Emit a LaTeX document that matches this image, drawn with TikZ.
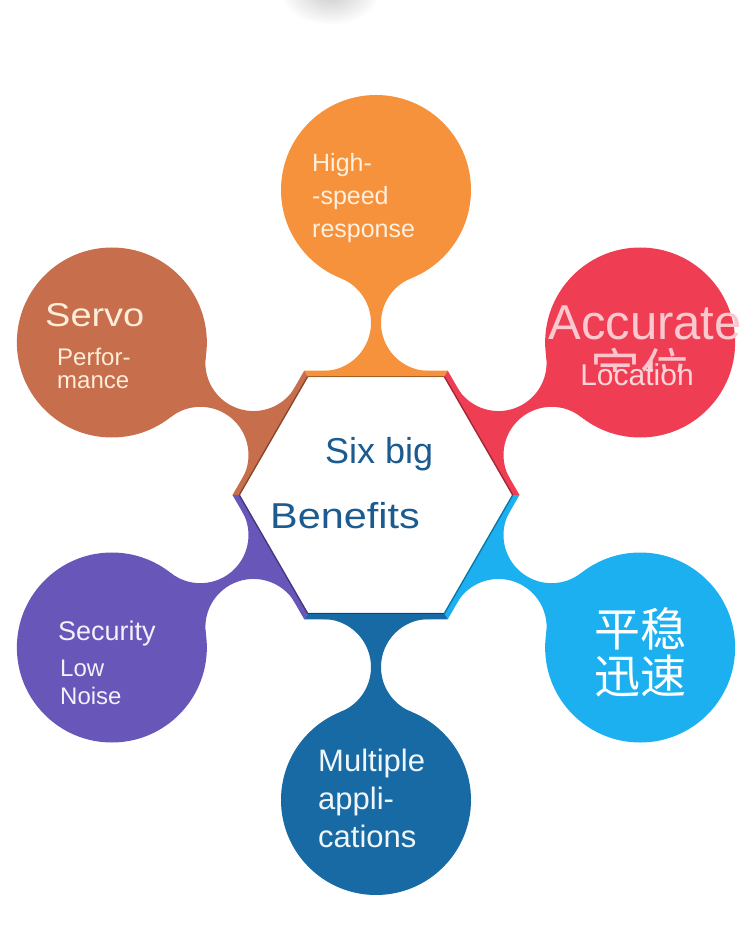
\documentclass[tikz,border=0pt]{standalone}
\usepackage{fontspec}
\setmainfont{Liberation Sans}
\newfontfamily\widefont{Liberation Sans}[FakeStretch=1.15]
\newfontfamily\cjkfont{Noto Sans CJK SC}
\usepackage{xcolor}
\usepackage{tikz}

\definecolor{cOrange}{HTML}{F6923C}
\definecolor{cRed}{HTML}{EF3E54}
\definecolor{cSky}{HTML}{1CB0F0}
\definecolor{cNavy}{HTML}{186AA4}
\definecolor{cViolet}{HTML}{6856B8}
\definecolor{cRust}{HTML}{C76F4C}
\definecolor{cTitle}{HTML}{1C5B8F}

\begin{document}
\begin{tikzpicture}[
    x=1pt, y=1pt,
    bubble/.style={circle, minimum size=190pt, inner sep=0pt},
    lbl/.style={inner sep=0pt, align=left}
]
\useasboundingbox (-376,-450) rectangle (374,495);

% soft shadow at the top edge
\shade[inner color=black!20, outer color=white] (-46,502) ellipse (50 and 32);

\coordinate (hub) at (0,0);

% necks between hexagon and bubbles
\foreach \ang/\col in {90/cOrange, 30/cRed, -30/cSky, -90/cNavy, -150/cViolet, 150/cRust} {
  \begin{scope}[shift={(hub)}, rotate=\ang]
    \fill[\col] (124,53.1) arc[start angle=180, end angle=338.22, radius=48.1]
      -- (216.8,-35.25) arc[start angle=21.78, end angle=180, radius=48.1]
      -- (119,-53.1) -- (119,53.1) -- cycle;
  \end{scope}
}

\node[bubble, fill=cOrange] (speed)    at (90:305)   {};
\node[bubble, fill=cRed]    (accurate) at (30:305)   {};
\node[bubble, fill=cSky]    (smooth)   at (-30:305)  {};
\node[bubble, fill=cNavy]   (apps)     at (-90:305)  {};
\node[bubble, fill=cViolet] (security) at (-150:305) {};
\node[bubble, fill=cRust]   (servo)    at (150:305)  {};

% hexagon frame
\foreach \ang/\col in {90/cOrange, 30/cRed, -30/cSky, -90/cNavy, -150/cViolet, 150/cRust} {
  \fill[\col] (\ang-30:143.5) -- (\ang+30:143.5) -- (\ang+30:136) -- (\ang-30:136) -- cycle;
  \draw[\col!65!black, line width=1.2pt] (\ang-30:136.8) -- (\ang+30:136.8);
}

% texts
\node[lbl, anchor=north west, text=orange!12, font={\fontsize{25}{33}\selectfont}]
  (speedtxt) at (-64,342) {High-\\-speed\\response};

\begin{scope}
  \clip (170,123) rectangle (360,160);
  \node[inner sep=0pt, anchor=base, text=cRed!30!white, font={\cjkfont\fontsize{50}{50}\selectfont}]
    (accghost) at (264,104) {定位};
\end{scope}
\node[inner sep=0pt, anchor=base, text=cRed!28!white, font={\fontsize{49}{49}\selectfont}]
  (acctxt) at (269,155) {Accurate};
\node[inner sep=0pt, anchor=base, text=cRed!22!white, font={\fontsize{30}{30}\selectfont}]
  (loctxt) at (261,110) {Location};

\node[inner sep=0pt, align=center, text=white, font={\cjkfont\fontsize{46}{47}\selectfont}]
  (smoothtxt) at (264,-157) {平稳\\迅速};

\node[lbl, anchor=north west, text=cNavy!6!white, font={\fontsize{31}{38}\selectfont}]
  (appstxt) at (-58,-254) {Multiple\\appli-\\cations};

\node[lbl, anchor=base west, text=cViolet!8!white, font={\fontsize{27}{27}\selectfont}]
  (sectxt) at (-318,-145) {Security};
\node[lbl, anchor=north west, text=cViolet!8!white, font={\fontsize{24}{28}\selectfont}]
  (noisetxt) at (-316,-165) {Low\\Noise};

\node[lbl, anchor=base west, text=orange!15, font={\widefont\fontsize{33}{33}\selectfont}]
  (servotxt) at (-331,168) {Servo};
\node[lbl, anchor=north west, text=orange!15, font={\fontsize{24}{23}\selectfont}]
  (perftxt) at (-319,147) {Perfor-\\mance};

\node[lbl, anchor=base west, text=cTitle, font={\fontsize{36}{36}\selectfont}]
  (sixtxt) at (-51,32) {Six big};
\node[lbl, anchor=base west, text=cTitle, font={\widefont\fontsize{36}{36}\selectfont}]
  (benefittxt) at (-106,-33) {Benefits};
\end{tikzpicture}
\end{document}
